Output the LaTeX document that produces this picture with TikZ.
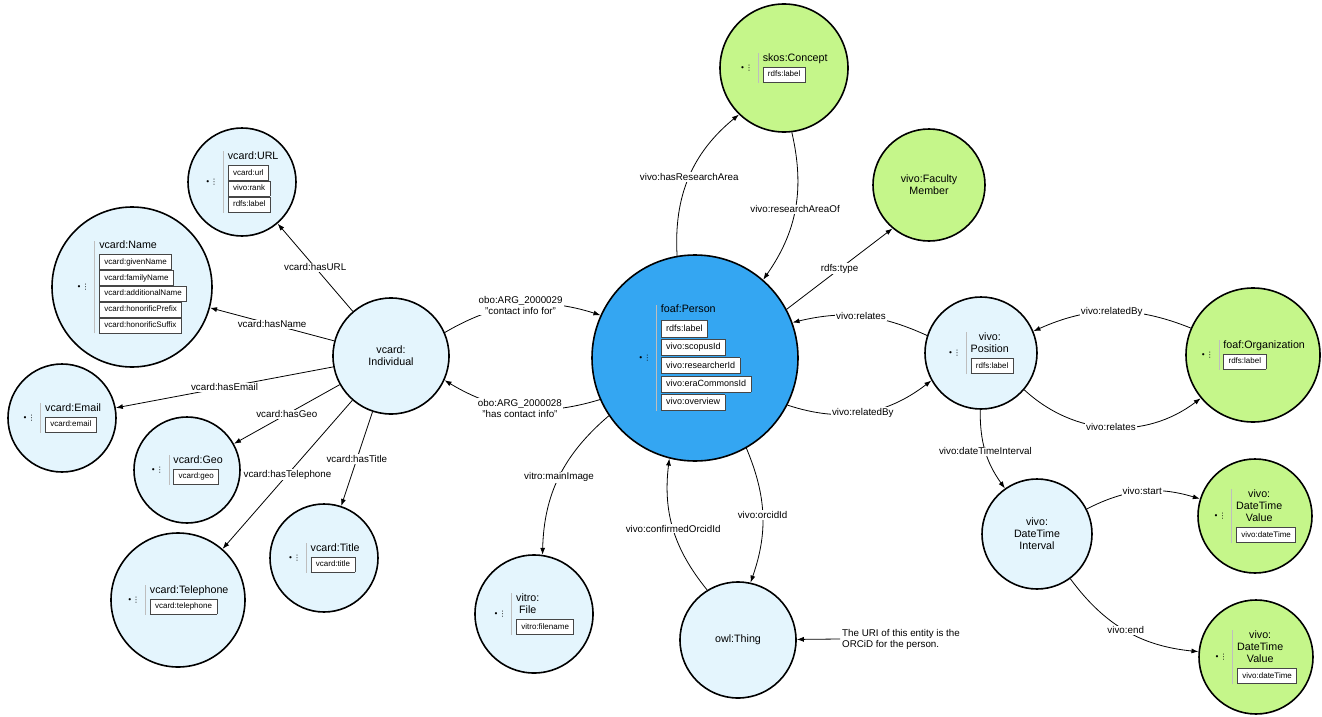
\documentclass[tikz,border=0pt]{standalone}
\usepackage{fontspec}
\setmainfont{Liberation Sans}
\newfontfamily\dejavu{DejaVu Sans}
\usetikzlibrary{arrows.meta}

\definecolor{paleblue}{RGB}{228,245,253}
\definecolor{personblue}{RGB}{52,166,242}
\definecolor{palegreen}{RGB}{197,246,138}
\definecolor{rulegray}{RGB}{190,190,190}
\definecolor{fieldline}{RGB}{70,70,70}

\setlength{\fboxsep}{3.5pt}
\setlength{\fboxrule}{0.7pt}
\newcommand{\fld}[1]{\fcolorbox{fieldline}{white}{\hspace{1pt}\vphantom{Ag}#1\hspace{1pt}}}
\newcommand{\hdl}{$\vcenter{\hbox{\dejavu\fontsize{7.5}{7.5}\selectfont •\kern0.5pt⋮}}$}
\newcommand{\ontclass}[3][3pt]{\hdl\hspace{5pt}{\color{rulegray}\vrule width 0.9pt}\hspace{4pt}%
  \begin{tabular}[c]{@{}l@{}}{\fontsize{10.7}{12}\selectfont #2}\\[#1]#3\end{tabular}}

\begin{document}
\begin{tikzpicture}[x=1pt, y=-1pt,
  ball/.style={circle, draw=black, line width=1.6pt, inner sep=0pt, font=\fontsize{8}{9.6}\selectfont},
  blueball/.style={ball, fill=paleblue},
  greenball/.style={ball, fill=palegreen},
  textball/.style={align=center, font=\fontsize{10.7}{12}\selectfont},
  edge/.style={line width=0.8pt, -{Latex[length=7pt,width=5pt]}},
  lbl/.style={fill=white, inner sep=1pt, align=center, font=\fontsize{9.8}{11}\selectfont}]
\useasboundingbox (0,0) rectangle (1322,717);

% left side: vcard
\node[blueball, minimum size=108pt] (url) at (242,182) {\ontclass{vcard:URL}{\fld{vcard:url}\\[2.5pt]\fld{vivo:rank}\\[2.5pt]\fld{rdfs:label}}};
\node[blueball, minimum size=160pt] (name) at (132,287) {\ontclass{vcard:Name}{\fld{vcard:givenName}\\[2.5pt]\fld{vcard:familyName}\\[2.5pt]\fld{vcard:additionalName}\\[2.5pt]\fld{vcard:honorificPrefix}\\[2.5pt]\fld{vcard:honorificSuffix}}};
\node[blueball, textball, minimum size=116pt] (indiv) at (391,356) {vcard:\\Individual};
\node[blueball, minimum size=108pt] (email) at (62,418) {\ontclass{vcard:Email}{\fld{vcard:email}}};
\node[blueball, minimum size=106pt] (geo) at (187,470) {\ontclass{vcard:Geo}{\fld{vcard:geo}}};
\node[blueball, minimum size=134pt] (tel) at (178,600) {\ontclass{vcard:Telephone}{\fld{vcard:telephone}}};
\node[blueball, minimum size=108pt] (title) at (324,558) {\ontclass{vcard:Title}{\fld{vcard:title}}};
\node[blueball, minimum size=118pt] (file) at (534,614) {\ontclass{\begin{tabular}[b]{@{}c@{}}vitro:\\File\end{tabular}}{\fld{vitro:filename}}};

% middle
\node[ball, fill=personblue, minimum size=206pt, font=\fontsize{9}{10.8}\selectfont] (person) at (695,358) {\ontclass[4.5pt]{foaf:Person}{\fld{rdfs:label}\\[4.5pt]\fld{vivo:scopusId}\\[4.5pt]\fld{vivo:researcherId}\\[4.5pt]\fld{vivo:eraCommonsId}\\[4.5pt]\fld{vivo:overview}}};
\node[greenball, minimum size=128pt] (concept) at (784,68) {\ontclass{skos:Concept}{\fld{rdfs:label}}};
\node[greenball, textball, minimum size=112pt] (faculty) at (929,185) {vivo:Faculty\\Member};
\node[blueball, textball, minimum size=116pt] (thing) at (738,640) {owl:Thing};
\node[align=left, anchor=west, inner sep=2pt, font=\fontsize{9.8}{11}\selectfont] (note) at (840,639) {The URI of this entity is the\\ORCiD for the person.};

% right side
\node[blueball, minimum size=112pt] (position) at (981,353) {\ontclass{\begin{tabular}[b]{@{}c@{}}vivo:\\Position\end{tabular}}{\fld{rdfs:label}}};
\node[greenball, minimum size=134pt] (org) at (1253,355) {\ontclass{foaf:Organization}{\fld{rdfs:label}}};
\node[blueball, textball, minimum size=110pt] (interval) at (1037,534) {vivo:\\DateTime\\Interval};
\node[greenball, minimum size=114pt] (valstart) at (1255,516) {\ontclass{\begin{tabular}[b]{@{}c@{}}vivo:\\DateTime\\Value\end{tabular}}{\fld{vivo:dateTime}}};
\node[greenball, minimum size=114pt] (valend) at (1256,657) {\ontclass{\begin{tabular}[b]{@{}c@{}}vivo:\\DateTime\\Value\end{tabular}}{\fld{vivo:dateTime}}};

\foreach \t/\l in {url/hasURL, name/hasName, email/hasEmail, geo/hasGeo, tel/hasTelephone, title/hasTitle}
  {\draw[edge] (indiv) -- node[lbl] {vcard:\l} (\t);}

\draw[edge] (indiv) to[bend left=24] node[lbl] {obo:ARG\_2000029\\"contact info for"} (person);
\draw[edge] (person) to[bend left=24] node[lbl] {obo:ARG\_2000028\\"has contact info"} (indiv);
\draw[edge] (person) to[bend left=27] node[lbl] {vivo:hasResearchArea} (concept);
\draw[edge] (concept) to[bend left=24] node[lbl] {vivo:researchAreaOf} (person);
\draw[edge] (person.28) -- node[lbl] {rdfs:type} (faculty.230);
\draw[edge] (position) to[bend right=19] node[lbl] {vivo:relates} (person);
\draw[edge] (person) to[bend right=28] node[lbl] {vivo:relatedBy} (position);
\draw[edge] (org) to[bend right=23] node[lbl] {vivo:relatedBy} (position);
\draw[edge] (position) to[bend right=40] node[lbl] {vivo:relates} (org);
\draw[edge] (position) to[bend right=18] node[lbl] {vivo:dateTimeInterval} (interval);
\draw[edge] (interval) to[bend left=22] node[lbl] {vivo:start} (valstart);
\draw[edge] (interval) to[bend right=24] node[lbl] {vivo:end} (valend);
\draw[edge] (person) to[bend right=24] node[lbl] {vitro:mainImage} (file);
\draw[edge] (thing) to[bend left=23] node[lbl] {vivo:confirmedOrcidId} (person);
\draw[edge] (person) to[bend left=21] node[lbl] {vivo:orcidId} (thing);
\draw[edge] (note.west) -- (thing);

\end{tikzpicture}
\end{document}
